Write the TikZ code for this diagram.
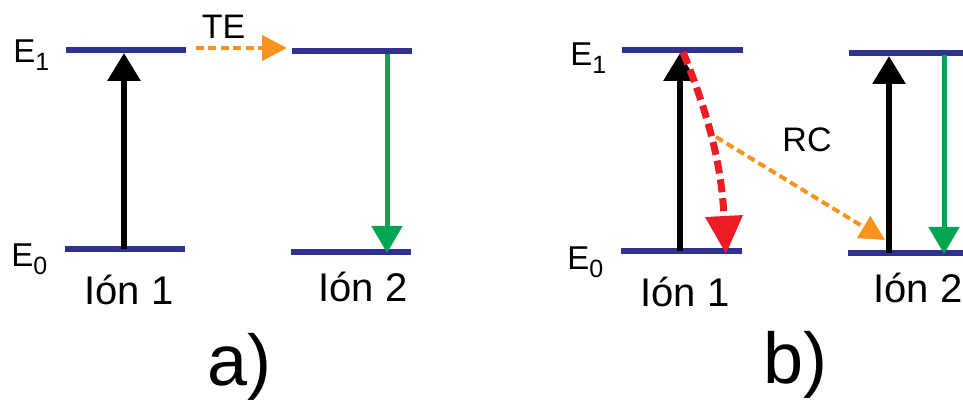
\documentclass[tikz,border=0pt]{standalone}
\usepackage{fontspec}
\setmainfont{Liberation Sans}
\usetikzlibrary{arrows.meta}

\definecolor{azulnivel}{HTML}{2E3192}
\definecolor{verdeem}{HTML}{00A651}
\definecolor{naranjate}{HTML}{F7941D}
\definecolor{rojorc}{HTML}{ED1C24}

\newcommand{\En}[1]{E\raisebox{-4pt}{\fontsize{12.5}{14}\selectfont #1}}

\tikzset{
  nivel/.style={draw=azulnivel, line width=3pt},
  excita/.style={draw=black, line width=3pt, -{Triangle[length=14pt,width=16pt]}},
  emite/.style={draw=verdeem, line width=2.5pt, -{Triangle[length=13.5pt,width=15pt]}},
  transf/.style={draw=naranjate, line width=2pt, dash pattern=on 4pt off 2.2pt,
    -{Triangle[length=12.5pt,width=12.5pt]}},
  relaja/.style={draw=rojorc, line width=3.5pt, dash pattern=on 6.5pt off 3pt,
    -{Triangle[length=19pt,width=18pt]}},
  ion/.style={inner sep=0pt, anchor=base, font=\fontsize{20}{24}\selectfont},
  energia/.style={inner sep=0pt, anchor=base west, font=\fontsize{16.5}{19}\selectfont},
  proceso/.style={inner sep=0pt, anchor=base, font=\fontsize{17}{20}\selectfont},
  panel/.style={inner sep=0pt, anchor=base, font=\fontsize{36}{42}\selectfont}
}

\begin{document}
\begin{tikzpicture}[x=0.5pt, y=-0.5pt]
  \useasboundingbox (0,0) rectangle (963,400);

  % niveles de energía
  \draw[nivel] (66,50) -- (186,50);
  \draw[nivel] (65,249) -- (185,249);
  \draw[nivel] (292,51) -- (412,51);
  \draw[nivel] (291,252) -- (411,252);
  \draw[nivel] (622,50) -- (743,50);
  \draw[nivel] (621,251) -- (742,251);
  \draw[nivel] (849,53) -- (963,53);
  \draw[nivel] (848,253) -- (963,253);

  % extremos de las flechas
  \coordinate (a1bajo) at (124,249);
  \coordinate (a1alto) at (124,53);
  \coordinate (a2alto) at (387,54);
  \coordinate (a2bajo) at (387,253);
  \coordinate (te1) at (196,48);
  \coordinate (te2) at (287,48);
  \coordinate (b1bajo) at (680,251);
  \coordinate (b1alto) at (680,53);
  \coordinate (rc0) at (683,52);
  \coordinate (rc3) at (726,254);
  \coordinate (rc1) at (716,137);
  \coordinate (rc2) at (885,240);
  \coordinate (b2bajo) at (889,253);
  \coordinate (b2alto) at (889,56);
  \coordinate (b2sup) at (944,55);
  \coordinate (b2inf) at (944,254);

  % a) transferencia de energía
  \draw[excita] (a1bajo) -- (a1alto);
  \draw[emite] (a2alto) -- (a2bajo);
  \draw[transf] (te1) -- (te2);

  % b) relajación cruzada
  \draw[excita] (b1bajo) -- (b1alto);
  \draw[relaja] (rc0) to[out=-68, in=93] (rc3);
  \draw[transf] (rc1) -- (rc2);
  \draw[excita] (b2bajo) -- (b2alto);
  \draw[emite] (b2sup) -- (b2inf);

  % textos
  \node[energia] (e1a) at (13,63) {\En{1}};
  \node[energia] (e0a) at (11,267) {\En{0}};
  \node[energia] (e1b) at (570,66) {\En{1}};
  \node[energia] (e0b) at (567,270) {\En{0}};
  \node[ion] (ion1a) at (129,305) {Ión 1};
  \node[ion] (ion2a) at (363,302) {Ión 2};
  \node[ion] (ion1b) at (685,307) {Ión 1};
  \node[ion, anchor=base west] (ion2b) at (873,303) {Ión 2};
  \node[proceso] (te) at (223.5,39) {TE};
  \node[proceso] (rc) at (807,152) {RC};
  \node[panel, anchor=base west] (pa) at (207,386) {a)};
  \node[panel, anchor=base west] (pb) at (763,384) {b)};
\end{tikzpicture}
\end{document}
